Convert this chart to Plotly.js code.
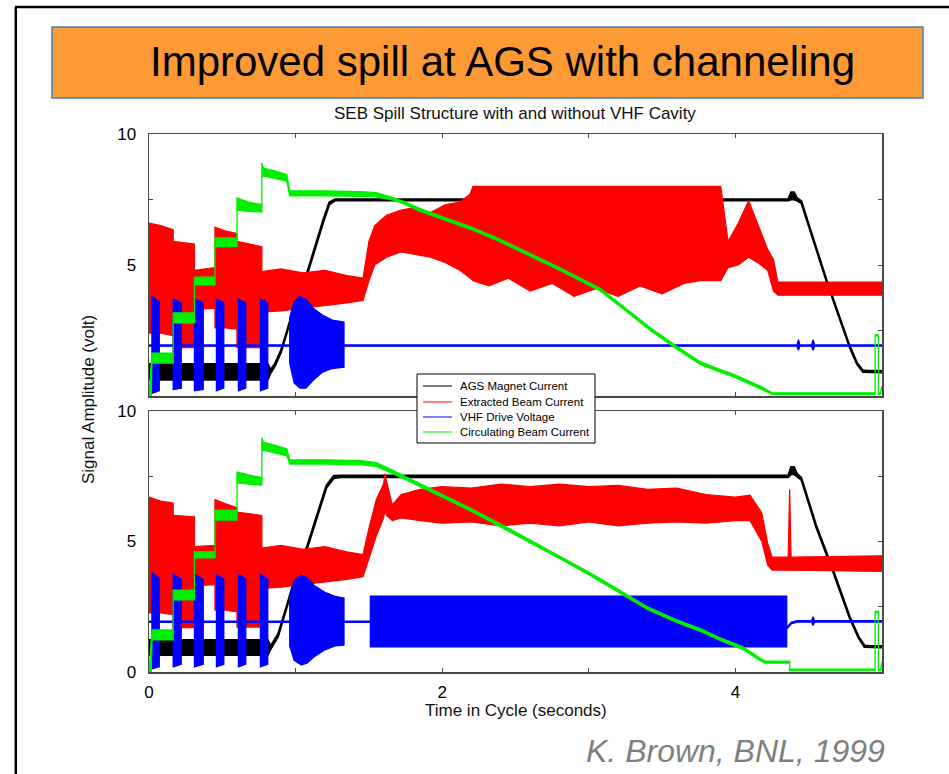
<!DOCTYPE html>
<html>
<head>
<meta charset="utf-8">
<script src="https://cdn.plot.ly/plotly-3.0.1.min.js"></script>
<style>
  html, body { margin: 0; padding: 0; background: #ffffff; }
  #chart { width: 949px; height: 774px; }
</style>
</head>
<body>
<div id="chart"></div>
<script>
// ---------------- DATA ----------------
const seriesNames  = ['AGS Magnet Current', 'Extracted Beam Current', 'VHF Drive Voltage', 'Circulating Beam Current'];
const seriesColors = ['#000000', '#ff0000', '#0000ff', '#00ee00'];
const xTickVals  = [0, 1, 2, 3, 4, 5];
const xTickText  = ['0', '', '2', '', '4', ''];
const yTickVals  = [0, 2.5, 5, 7.5, 10];
const yTickTextBottom = ['0', '', '5', '', '10'];
const yTickTextTop    = ['', '', '5', '', '10'];

// ---- Top panel (VHF cavity off during spill) ----
const topMagT  = [0, 0.81, 0.83, 0.86, 0.90, 0.94, 0.98, 1.08, 1.19, 1.23, 1.27, 4.36, 4.38, 4.40, 4.42, 4.45, 4.62, 4.78, 4.83, 4.87, 4.90, 5.0];
const topMagLo = [0.62, 0.62, 0.88, 1.15, 1.65, 2.35, 3.15, 4.65, 6.65, 7.3, 7.46, 7.46, 7.5, 7.5, 7.46, 7.36, 4.4, 1.85, 1.2, 0.92, 0.9, 0.9];
const topMagHi = [1.22, 1.22, 1.0, 1.25, 1.75, 2.45, 3.25, 4.75, 6.75, 7.4, 7.51, 7.51, 7.78, 7.78, 7.56, 7.44, 4.46, 1.91, 1.26, 0.98, 0.96, 0.96];

const topExtT  = [0, 0.08, 0.165, 0.165, 0.31, 0.31, 0.45, 0.45, 0.52, 0.60, 0.60, 0.77, 0.77, 0.9, 1.05, 1.2, 1.35, 1.46, 1.50, 1.54, 1.62, 1.72, 1.82, 1.92, 2.02, 2.12, 2.19, 2.21, 2.32, 2.45, 2.6, 2.75, 2.9, 3.05, 3.2, 3.35, 3.5, 3.65, 3.76, 3.9, 3.95, 4.02, 4.09, 4.15, 4.22, 4.26, 4.29, 4.6, 5.0];
const topExtLo = [2.4, 2.4, 2.3, 1.85, 1.85, 3.3, 3.35, 2.6, 2.6, 2.55, 1.85, 1.85, 3.2, 3.25, 3.35, 3.45, 3.55, 3.65, 4.4, 5.0, 5.3, 5.5, 5.4, 5.3, 5.1, 4.8, 4.5, 4.4, 4.2, 4.5, 4.0, 4.3, 3.8, 4.1, 3.8, 4.2, 3.9, 4.3, 4.4, 4.4, 4.9, 5.0, 5.3, 5.1, 4.8, 4.0, 3.85, 3.85, 3.85];
const topExtHi = [6.6, 6.5, 6.35, 5.9, 5.8, 4.8, 4.9, 6.45, 6.3, 6.2, 5.9, 5.7, 4.75, 4.85, 4.7, 4.8, 4.6, 4.5, 5.9, 6.5, 6.9, 7.1, 7.2, 7.0, 7.3, 7.4, 7.7, 8.0, 8.0, 8.0, 8.0, 8.0, 8.0, 8.0, 8.0, 8.0, 8.0, 8.0, 8.0, 8.0, 5.9, 6.6, 7.45, 6.6, 5.6, 5.2, 4.35, 4.35, 4.35];

const topVhfT  = [0, 0.02, 0.02, 0.07, 0.07, 0.165, 0.165, 0.22, 0.22, 0.31, 0.31, 0.37, 0.37, 0.46, 0.46, 0.51, 0.51, 0.61, 0.61, 0.66, 0.66, 0.76, 0.76, 0.81, 0.81, 0.96, 0.96, 0.99, 1.03, 1.07, 1.12, 1.18, 1.25, 1.33, 1.33, 4.42, 4.43, 4.44, 4.52, 4.53, 4.54, 5.0];
const topVhfLo = [1.9, 1.9, 0.1, 0.2, 1.9, 1.9, 0.25, 0.3, 1.9, 1.9, 0.2, 0.25, 1.9, 1.9, 0.2, 0.3, 1.9, 1.9, 0.2, 0.3, 1.9, 1.9, 0.2, 0.3, 1.9, 1.9, 1.25, 0.5, 0.3, 0.3, 0.6, 0.9, 1.05, 1.1, 1.9, 1.9, 1.75, 1.9, 1.9, 1.75, 1.9, 1.9];
const topVhfHi = [1.95, 1.95, 3.8, 3.6, 1.95, 1.95, 3.7, 3.55, 1.95, 1.95, 3.7, 3.55, 1.95, 1.95, 3.7, 3.55, 1.95, 1.95, 3.7, 3.55, 1.95, 1.95, 3.7, 3.55, 1.95, 1.95, 3.0, 3.6, 3.8, 3.7, 3.35, 3.1, 2.9, 2.82, 1.95, 1.95, 2.15, 1.95, 1.95, 2.15, 1.95, 1.95];

const topCircT  = [0, 0.015, 0.02, 0.165, 0.165, 0.31, 0.31, 0.45, 0.45, 0.60, 0.60, 0.68, 0.77, 0.77, 0.78, 0.85, 0.94, 0.96, 1.2, 1.45, 1.55, 1.65, 1.75, 1.85, 2.0, 2.2, 2.39, 2.6, 2.8, 3.08, 3.25, 3.42, 3.6, 3.76, 3.88, 3.98, 4.1, 4.18, 4.25, 4.953, 4.953, 4.975, 4.975, 4.99, 5.0];
const topCircLo = [0, 0, 1.26, 1.26, 2.79, 2.79, 4.24, 4.24, 5.7, 5.7, 7.1, 7.05, 7.02, 8.35, 8.4, 8.3, 8.2, 7.64, 7.64, 7.62, 7.6, 7.5, 7.3, 7.05, 6.75, 6.35, 5.9, 5.35, 4.8, 4.0, 3.25, 2.5, 1.8, 1.21, 0.95, 0.75, 0.45, 0.25, 0.06, 0.06, 2.3, 2.3, 0.06, 0.06, 0.32];
const topCircHi = [0, 1.5, 1.64, 1.64, 3.17, 3.17, 4.54, 4.54, 6.03, 6.03, 7.56, 7.4, 7.3, 8.89, 8.7, 8.6, 8.45, 7.83, 7.83, 7.8, 7.76, 7.6, 7.4, 7.15, 6.85, 6.45, 6.0, 5.45, 4.9, 4.1, 3.35, 2.6, 1.9, 1.31, 1.05, 0.85, 0.55, 0.35, 0.12, 0.12, 2.33, 2.33, 0.12, 0.12, 0.38];

// ---- Bottom panel (VHF cavity on during spill) ----
const botMagT  = [0, 0.81, 0.83, 0.88, 0.94, 1.0, 1.08, 1.15, 1.21, 1.26, 1.31, 4.36, 4.38, 4.40, 4.42, 4.45, 4.55, 4.67, 4.78, 4.84, 4.88, 4.92, 5.0];
const botMagLo = [0.65, 0.65, 0.88, 1.35, 2.45, 3.6, 4.75, 5.95, 7.05, 7.42, 7.46, 7.46, 7.58, 7.58, 7.5, 7.36, 5.56, 3.78, 2.05, 1.3, 0.96, 0.94, 0.94];
const botMagHi = [1.23, 1.23, 1.0, 1.45, 2.55, 3.7, 4.85, 6.05, 7.15, 7.52, 7.53, 7.53, 7.85, 7.85, 7.6, 7.44, 5.64, 3.86, 2.12, 1.36, 1.02, 1.0, 1.0];

const botExtT  = [0, 0.08, 0.165, 0.165, 0.31, 0.31, 0.45, 0.45, 0.52, 0.60, 0.60, 0.77, 0.77, 0.9, 1.05, 1.2, 1.35, 1.46, 1.50, 1.55, 1.6, 1.61, 1.62, 1.66, 1.72, 1.85, 2.0, 2.2, 2.4, 2.6, 2.8, 3.0, 3.2, 3.4, 3.6, 3.8, 4.0, 4.1, 4.18, 4.22, 4.25, 4.36, 4.37, 4.38, 5.0];
const botExtLo = [2.26, 2.26, 2.2, 1.7, 1.7, 3.3, 3.35, 2.37, 2.37, 2.3, 1.72, 1.72, 3.2, 3.25, 3.35, 3.45, 3.55, 3.65, 4.3, 5.2, 5.9, 6.2, 6.0, 5.8, 5.9, 5.8, 5.7, 5.75, 5.6, 5.7, 5.6, 5.75, 5.6, 5.7, 5.75, 5.7, 5.8, 5.8, 5.0, 4.1, 3.9, 3.9, 3.9, 3.9, 3.85];
const botExtHi = [6.7, 6.55, 6.47, 6.0, 5.95, 4.8, 4.85, 6.6, 6.45, 6.3, 6.13, 6.0, 4.75, 4.85, 4.7, 4.8, 4.6, 4.5, 5.5, 6.6, 7.2, 7.6, 7.3, 6.4, 6.8, 7.0, 7.1, 7.05, 7.2, 7.1, 7.2, 7.1, 7.15, 7.0, 7.05, 6.8, 6.7, 6.78, 6.09, 4.94, 4.4, 4.4, 7.0, 4.4, 4.45];

const botVhfT  = [0, 0.02, 0.02, 0.07, 0.07, 0.165, 0.165, 0.22, 0.22, 0.31, 0.31, 0.37, 0.37, 0.46, 0.46, 0.51, 0.51, 0.61, 0.61, 0.66, 0.66, 0.76, 0.76, 0.81, 0.81, 0.96, 0.96, 0.99, 1.04, 1.08, 1.13, 1.2, 1.27, 1.33, 1.33, 1.51, 1.51, 4.35, 4.35, 4.38, 4.42, 4.52, 4.53, 4.54, 5.0];
const botVhfLo = [1.9, 1.9, 0.12, 0.2, 1.9, 1.9, 0.2, 0.3, 1.9, 1.9, 0.2, 0.3, 1.9, 1.9, 0.2, 0.3, 1.9, 1.9, 0.2, 0.3, 1.9, 1.9, 0.2, 0.3, 1.9, 1.9, 1.0, 0.45, 0.27, 0.35, 0.6, 0.85, 1.0, 1.03, 1.9, 1.9, 0.96, 0.96, 1.64, 1.84, 1.91, 1.91, 1.78, 1.91, 1.91];
const botVhfHi = [1.95, 1.95, 3.8, 3.6, 1.95, 1.95, 3.75, 3.55, 1.95, 1.95, 3.75, 3.55, 1.95, 1.95, 3.75, 3.55, 1.95, 1.95, 3.75, 3.55, 1.95, 1.95, 3.75, 3.55, 1.95, 1.95, 2.8, 3.5, 3.72, 3.6, 3.3, 3.05, 2.9, 2.83, 1.95, 1.95, 2.91, 2.91, 1.7, 1.9, 1.97, 1.97, 2.12, 1.97, 1.97];

const botCircT  = [0, 0.015, 0.02, 0.165, 0.165, 0.31, 0.31, 0.45, 0.45, 0.60, 0.60, 0.68, 0.77, 0.77, 0.78, 0.85, 0.94, 0.96, 1.2, 1.45, 1.55, 1.65, 1.8, 2.0, 2.2, 2.4, 2.6, 2.8, 3.0, 3.2, 3.4, 3.6, 3.76, 3.9, 4.05, 4.15, 4.2, 4.37, 4.37, 4.953, 4.953, 4.975, 4.975, 4.99, 5.0];
const botCircLo = [0, 0, 1.23, 1.23, 2.76, 2.76, 4.37, 4.37, 5.82, 5.82, 7.25, 7.2, 7.16, 8.45, 8.5, 8.4, 8.28, 7.97, 7.97, 7.94, 7.88, 7.64, 7.25, 6.7, 6.15, 5.57, 4.95, 4.35, 3.73, 3.07, 2.4, 1.9, 1.56, 1.2, 0.87, 0.5, 0.34, 0.34, 0.05, 0.05, 2.28, 2.28, 0.05, 0.05, 0.3];
const botCircHi = [0, 1.5, 1.61, 1.61, 3.14, 3.14, 4.6, 4.6, 6.2, 6.2, 7.66, 7.55, 7.45, 8.97, 8.8, 8.7, 8.55, 8.13, 8.13, 8.1, 8.02, 7.76, 7.35, 6.8, 6.25, 5.67, 5.05, 4.45, 3.83, 3.17, 2.5, 2.0, 1.66, 1.3, 0.97, 0.6, 0.42, 0.42, 0.11, 0.11, 2.32, 2.32, 0.11, 0.11, 0.38];

// ---------------- TRACES ----------------
const FONT = 'Liberation Sans, Arial, Helvetica, sans-serif';
function band(t, lo, hi, idx, xa, ya, lw) {
  return {
    type: 'scatter', mode: 'lines',
    x: t.concat(t.slice().reverse()),
    y: hi.concat(lo.slice().reverse()),
    fill: 'toself', fillcolor: seriesColors[idx],
    line: { color: seriesColors[idx], width: lw },
    name: seriesNames[idx], showlegend: false, hoverinfo: 'skip',
    xaxis: xa, yaxis: ya
  };
}
const traces = [
  band(topMagT, topMagLo, topMagHi, 0, 'x2', 'y2', 2),
  band(topExtT, topExtLo, topExtHi, 1, 'x2', 'y2', 1.2),
  band(topVhfT, topVhfLo, topVhfHi, 2, 'x2', 'y2', 1.3),
  band(topCircT, topCircLo, topCircHi, 3, 'x2', 'y2', 1.3),
  band(botMagT, botMagLo, botMagHi, 0, 'x', 'y', 2),
  band(botExtT, botExtLo, botExtHi, 1, 'x', 'y', 1.2),
  band(botVhfT, botVhfLo, botVhfHi, 2, 'x', 'y', 1.3),
  band(botCircT, botCircLo, botCircHi, 3, 'x', 'y', 1.3)
];

// ---------------- LAYOUT ----------------
const W = 949, H = 774;
const px = v => v / W;
const py = v => 1 - v / H;

const axisCommon = {
  showline: true, linecolor: '#4a4a4a', linewidth: 1.5, mirror: 'ticks',
  ticks: 'inside', ticklen: 4, tickwidth: 1, tickcolor: '#4a4a4a',
  showgrid: false, zeroline: false, fixedrange: true,
  tickfont: { family: FONT, size: 17, color: '#000' }
};
const xDomain = [px(149), px(882)];

const legendRows = [386, 402, 417, 432];
const shapes = [
  // slide frame
  { type: 'line', xref: 'paper', yref: 'paper', x0: px(15), x1: 1, y0: py(7), y1: py(7), line: { color: '#000', width: 2.5 } },
  { type: 'line', xref: 'paper', yref: 'paper', x0: px(15.8), x1: px(15.8), y0: 0, y1: py(7), line: { color: '#000', width: 2.5 } },
  // orange title banner
  { type: 'rect', xref: 'paper', yref: 'paper', x0: px(52), x1: px(923), y0: py(98), y1: py(27), fillcolor: '#fd9a35', line: { color: '#4a7ebb', width: 1.5 } },
  // legend box
  { type: 'rect', xref: 'paper', yref: 'paper', layer: 'above', x0: px(417), x1: px(595), y0: py(443), y1: py(374), fillcolor: '#ffffff', line: { color: '#000', width: 1 } }
];
legendRows.forEach((r, i) => {
  shapes.push({ type: 'line', xref: 'paper', yref: 'paper', layer: 'above', x0: px(423), x1: px(452), y0: py(r), y1: py(r), line: { color: seriesColors[i], width: 1 } });
});

const annotations = [
  { text: 'Improved spill at AGS with channeling', xref: 'paper', yref: 'paper', x: px(502), y: py(62), xanchor: 'center', yanchor: 'middle', showarrow: false, font: { family: FONT, size: 42, color: '#000' } },
  { text: 'SEB Spill Structure with and without VHF Cavity', xref: 'paper', yref: 'paper', x: px(515), y: py(113.5), xanchor: 'center', yanchor: 'middle', showarrow: false, font: { family: FONT, size: 17, color: '#111' } },
  { text: 'Time in Cycle (seconds)', xref: 'paper', yref: 'paper', x: px(516), y: py(710), xanchor: 'center', yanchor: 'middle', showarrow: false, font: { family: FONT, size: 17, color: '#111' } },
  { text: 'Signal Amplitude (volt)', xref: 'paper', yref: 'paper', x: px(89), y: py(400), xanchor: 'center', yanchor: 'middle', textangle: -90, showarrow: false, font: { family: FONT, size: 17, color: '#111' } },
  { text: 'K. Brown, BNL, 1999', xref: 'paper', yref: 'paper', x: px(887), y: py(751), xanchor: 'right', yanchor: 'middle', showarrow: false, font: { family: FONT, size: 32, color: '#808080', style: 'italic' } }
];
legendRows.forEach((r, i) => {
  annotations.push({ text: seriesNames[i], xref: 'paper', yref: 'paper', x: px(458), y: py(r), xanchor: 'left', yanchor: 'middle', showarrow: false, font: { family: FONT, size: 11.5, color: '#000' } });
});

const layout = {
  width: W, height: H,
  margin: { l: 0, r: 0, t: 0, b: 0, pad: 0 },
  paper_bgcolor: '#ffffff', plot_bgcolor: '#ffffff',
  showlegend: false,
  xaxis: Object.assign({}, axisCommon, { domain: xDomain, anchor: 'y', range: [0, 5], tickmode: 'array', tickvals: xTickVals, ticktext: xTickText, ticklabelstandoff: 4 }),
  xaxis2: Object.assign({}, axisCommon, { domain: xDomain, anchor: 'y2', range: [0, 5], tickmode: 'array', tickvals: xTickVals, ticktext: xTickVals.map(() => ''), showticklabels: false }),
  yaxis: Object.assign({}, axisCommon, { domain: [py(672), py(411)], anchor: 'x', range: [0, 10], tickmode: 'array', tickvals: yTickVals, ticktext: yTickTextBottom, ticklabelstandoff: 8 }),
  yaxis2: Object.assign({}, axisCommon, { domain: [py(396), py(134)], anchor: 'x2', range: [0, 10], tickmode: 'array', tickvals: yTickVals, ticktext: yTickTextTop, ticklabelstandoff: 8 }),
  shapes: shapes,
  annotations: annotations
};

Plotly.newPlot('chart', traces, layout, { displayModeBar: false, staticPlot: true });
</script>
</body>
</html>
